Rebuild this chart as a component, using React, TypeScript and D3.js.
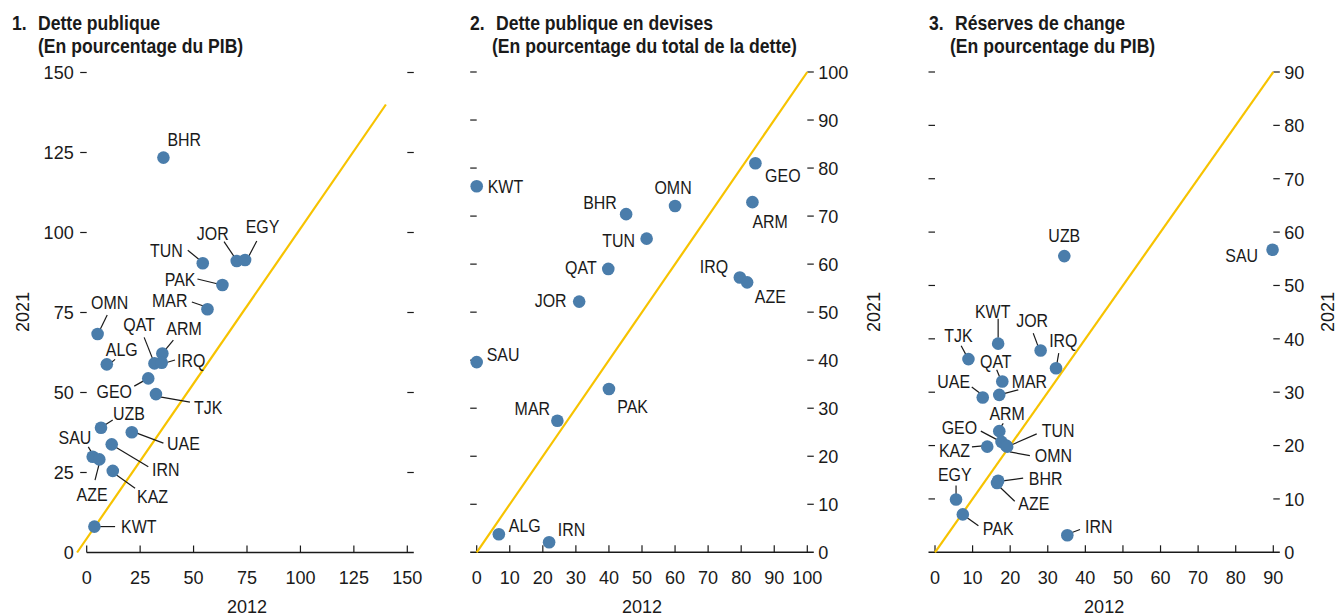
import React from "react";
import * as d3 from "d3";

// ---------- DATA ----------
// Panel 1: Dette publique (% du PIB) — [2012, 2021]
const debtCodes = ["BHR","TUN","JOR","EGY","PAK","MAR","OMN","ALG","ARM","QAT","IRQ","GEO","TJK","UZB","UAE","IRN","SAU","AZE","KAZ","KWT"];
const debt2012 = [35.9,54.3,70.2,74.1,63.5,56.5,5.1,9.4,35.4,31.7,35.1,28.8,32.4,6.7,21.1,11.7,2.8,5.9,12.2,3.6];
const debt2021 = [123.4,90.4,91.1,91.4,83.6,76.0,68.3,58.8,62.2,59.1,59.3,54.4,49.5,39.0,37.6,33.8,29.9,29.1,25.5,8.1];

// Panel 2: Dette publique en devises (% du total de la dette)
const fxCodes = ["KWT","BHR","OMN","TUN","QAT","GEO","ARM","IRQ","AZE","JOR","SAU","PAK","MAR","ALG","IRN"];
const fx2012 = [0,45.2,60.0,51.4,39.8,84.3,83.4,79.6,81.8,31.0,0,40.0,24.4,6.7,21.9];
const fx2021 = [76.2,70.4,72.1,65.3,59.0,81.0,72.9,57.2,56.2,52.2,39.6,34.0,27.4,3.75,2.1];

// Panel 3: Réserves de change (% du PIB)
const resCodes = ["UZB","SAU","KWT","JOR","IRQ","TJK","QAT","MAR","UAE","ARM","GEO","TUN","OMN","KAZ","EGY","PAK","BHR","AZE","IRN"];
const res2012 = [34.4,89.8,16.8,28.1,32.2,8.9,17.9,17.1,12.7,17.1,17.7,18.9,19.2,13.9,5.6,7.4,16.8,16.5,35.2];
const res2021 = [55.5,56.7,39.1,37.8,34.5,36.2,32.0,29.5,29.0,22.7,20.7,20.0,19.8,19.8,9.9,7.1,13.4,13.0,3.2];

const ticks1 = [0,25,50,75,100,125,150];
const ticks2 = [0,10,20,30,40,50,60,70,80,90,100];
const ticks3 = [0,10,20,30,40,50,60,70,80,90];

// ---------- LABEL PLACEMENT (offsets from the dot, px) ----------
type LP = [number, number, string, number[] | null];
const place1: Record<string, LP> = {
  BHR: [4, -18, "start", null],
  TUN: [-20, -13, "end", [-15, -13, -4, -4]],
  JOR: [-24, -28, "middle", [-12.7, -19.3, -1.7, -3]],
  EGY: [17.5, -34, "middle", [11.7, -19, 3.3, -3]],
  PAK: [-27, -6, "end", [-25, -6, -4.3, -1]],
  MAR: [-20, -9, "end", [-15.6, -7.3, -4, -3.3]],
  OMN: [12, -32, "middle", [9.6, -19, 2.3, -4]],
  ALG: [15, -15, "middle", [1.6, 0.7, 8.3, -5]],
  ARM: [21.7, -25, "middle", [11, -13.3, 2.7, -3.3]],
  QAT: [-15.3, -39.3, "middle", [-10.3, -26, -1.6, -4]],
  IRQ: [15.3, -2.7, "start", [13.3, -2.7, 3.3, 0.3]],
  GEO: [-16.3, 12.4, "end", [-14, 7.7, -3.3, 1.7]],
  TJK: [38, 12.7, "start", [4, 2.7, 34, 8]],
  UZB: [12, -14.4, "start", [11.7, -7.7, 2.3, -1.7]],
  UAE: [35.3, 11, "start", [5, 1, 31.6, 11]],
  IRN: [40.3, 25, "start", [3.3, 2.4, 36.6, 22.4]],
  SAU: [-17.7, -19.4, "middle", [-4.4, -10, 0.6, -1.7]],
  AZE: [-7.3, 35, "middle", [0, 4, -4.3, 20.7]],
  KAZ: [24.3, 25.7, "start", [2.3, 3, 22.3, 17.3]],
  KWT: [26.7, 0, "start", [3, 0, 20.7, 0]],
};
const place2: Record<string, LP> = {
  KWT: [11, 0, "start", null],
  BHR: [-9.3, -12, "end", null],
  OMN: [-2, -19.3, "middle", null],
  TUN: [-11.7, 1.7, "end", null],
  QAT: [-11.6, -1.6, "end", null],
  GEO: [9.7, 12, "start", null],
  ARM: [0, 19.4, "start", null],
  IRQ: [-11.7, -11, "end", null],
  AZE: [7.7, 13.7, "start", null],
  JOR: [-12.6, -1.7, "end", null],
  SAU: [10, -8, "start", null],
  PAK: [8.3, 17, "start", null],
  MAR: [-7.3, -13, "end", null],
  ALG: [10, -9.3, "start", null],
  IRN: [8.7, -13.3, "start", null],
};
const place3: Record<string, LP> = {
  UZB: [0, -20.7, "middle", null],
  SAU: [-14.4, 5.7, "end", null],
  KWT: [-5.5, -32.3, "middle", [0, -25, 0, -6]],
  JOR: [-8.5, -30.7, "middle", [-7.4, -17.4, -2.7, -4.7]],
  IRQ: [7.3, -27.6, "middle", [2.7, -15, 1, -5.3]],
  TJK: [-10, -24, "middle", [-7.3, -13.3, -2.3, -4]],
  QAT: [-6.5, -20.7, "middle", [-5.6, -11.7, -2.3, -3.7]],
  MAR: [12.4, -14, "start", [19, -5, 3.7, -1]],
  UAE: [-12.7, -16.3, "end", [-11, -10.6, -2.7, -4.3]],
  ARM: [7.9, -18.3, "middle", [4, -7.7, 0.7, -3]],
  GEO: [-24.4, -15, "end", [-20.7, -10.7, -3.7, -1.7]],
  TUN: [35.7, -15, "start", [30.7, -11.7, 4, 0]],
  OMN: [27.7, 8.3, "start", [22.7, 9, 2.7, 5.3]],
  KAZ: [-17.3, 3.3, "end", [-15.3, 0.3, -4.3, -0.7]],
  EGY: [-1.3, -25.3, "middle", [0, -14, 0, -5]],
  PAK: [20, 13.4, "start", [3.3, 2.7, 15.6, 11.4]],
  BHR: [30.7, -2.7, "start", [4.7, 0, 25, -2.7]],
  AZE: [21.3, 20.6, "start", [2, 3.3, 17.7, 18.3]],
  IRN: [17.7, -9, "start", [2.7, -2, 12.7, -5.7]],
};

const FONT = "'Liberation Sans', Arial, sans-serif";
const DOT = "#4a7dab";
const YELLOW = "#f7c300";
const INK = "#1a1a1a";
const FS = 19;
const SX_LETTERS = 0.84;
const SX_DIGITS = 0.95;
const SX_TITLE = 0.88;

type TProps = { x: number; y: number; anchor?: string; sx: number; size: number; bold?: boolean; rotate?: number; children: React.ReactNode };
function T({ x, y, anchor = "start", sx, size, bold, rotate = 0, children }: TProps) {
  return (
    <text
      transform={`translate(${x},${y}) rotate(${rotate}) scale(${sx},1)`}
      textAnchor={anchor as any}
      fontSize={size}
      fontWeight={bold ? "bold" : "normal"}
      fill={INK}
    >
      {children}
    </text>
  );
}

type PanelProps = {
  codes: string[]; xs: number[]; ys: number[];
  xDomain: [number, number]; xRange: [number, number];
  yDomain: [number, number]; yRange: [number, number];
  ticks: number[]; yLabelSide: "left" | "right";
  place: Record<string, LP>;
  diag: [number, number, number, number];
  axisLeftExt: number;
  num: string; title1: string; title2: string;
  numX: number; t1X: number; t2X: number;
  yTitleX: number;
};

function Panel(p: PanelProps) {
  const x = d3.scaleLinear().domain(p.xDomain).range(p.xRange);
  const y = d3.scaleLinear().domain(p.yDomain).range(p.yRange);
  const [x0, x1] = p.xRange;
  const y0 = p.yRange[0];
  const tk = 6.5;
  const base = 0.36 * FS;
  const line = d3.line<[number, number]>().x(d => x(d[0])).y(d => y(d[1]));
  const diagPath = line([[p.diag[0], p.diag[1]], [p.diag[2], p.diag[3]]]) || "";
  return (
    <g fontFamily={FONT}>
      <T x={p.numX} y={30} sx={SX_TITLE} size={20} bold>{p.num}</T>
      <T x={p.t1X} y={30} sx={SX_TITLE} size={20} bold>{p.title1}</T>
      <T x={p.t2X} y={53} sx={SX_TITLE} size={20} bold>{p.title2}</T>
      {p.ticks.map(t => (
        <g key={"yt" + t}>
          {t !== 0 && <line x1={x0 - tk} x2={x0} y1={y(t)} y2={y(t)} stroke={INK} strokeWidth={1.2} />}
          {t !== 0 && <line x1={x1} x2={x1 + tk} y1={y(t)} y2={y(t)} stroke={INK} strokeWidth={1.2} />}
          {p.yLabelSide === "left" ? (
            <T x={x0 - 13} y={y(t) + base} anchor="end" sx={SX_DIGITS} size={FS}>{t}</T>
          ) : (
            <T x={x1 + 11} y={y(t) + base} anchor="start" sx={SX_DIGITS} size={FS}>{t}</T>
          )}
        </g>
      ))}
      <line x1={x0 - p.axisLeftExt} x2={x1 + tk} y1={y0} y2={y0} stroke={INK} strokeWidth={1.4} />
      {p.ticks.map(t => (
        <g key={"xt" + t}>
          <line x1={x(t)} x2={x(t)} y1={y0} y2={y0 - 7} stroke={INK} strokeWidth={1.2} />
          <T x={x(t)} y={y0 + 25 + base} anchor="middle" sx={SX_DIGITS} size={FS}>{t}</T>
        </g>
      ))}
      <T x={(x0 + x1) / 2} y={613} anchor="middle" sx={SX_DIGITS} size={FS}>2012</T>
      <T x={p.yTitleX + base} y={312} rotate={-90} anchor="middle" sx={SX_DIGITS} size={FS}>2021</T>
      <path d={diagPath} stroke={YELLOW} strokeWidth={2.2} fill="none" />
      {p.codes.map((c, i) => {
        const lp = p.place[c];
        if (!lp || !lp[3]) return null;
        const cx = x(p.xs[i]), cy = y(p.ys[i]);
        const l = lp[3];
        return <line key={"ld" + c} x1={cx + l[0]} y1={cy + l[1]} x2={cx + l[2]} y2={cy + l[3]} stroke={INK} strokeWidth={1.2} />;
      })}
      {p.codes.map((c, i) => (
        <circle key={"d" + c} cx={x(p.xs[i])} cy={y(p.ys[i])} r={6.3} fill={DOT} />
      ))}
      {p.codes.map((c, i) => {
        const lp = p.place[c];
        const cx = x(p.xs[i]), cy = y(p.ys[i]);
        return (
          <T key={"l" + c} x={cx + lp[0]} y={cy + lp[1] + base} anchor={lp[2]} sx={SX_LETTERS} size={FS}>{c}</T>
        );
      })}
    </g>
  );
}

export default function App() {
  return (
    <svg width={1337} height={616} style={{ position: "absolute", left: 0, top: 0, display: "block", background: "#fff" }}>
      <rect width={1337} height={616} fill="#fff" />
      <Panel codes={debtCodes} xs={debt2012} ys={debt2021}
        xDomain={[0, 150]} xRange={[86.7, 407.3]} yDomain={[0, 150]} yRange={[552.5, 72.5]}
        ticks={ticks1} yLabelSide="left" place={place1} diag={[-4.5, 0, 140, 140]} axisLeftExt={0}
        num="1." title1="Dette publique" title2="(En pourcentage du PIB)" numX={12} t1X={38} t2X={38} yTitleX={22.5} />
      <Panel codes={fxCodes} xs={fx2012} ys={fx2021}
        xDomain={[0, 100]} xRange={[476.7, 807.3]} yDomain={[0, 100]} yRange={[552.3, 72]}
        ticks={ticks2} yLabelSide="right" place={place2} diag={[0, 0, 100, 100]} axisLeftExt={6.5}
        num="2." title1="Dette publique en devises" title2="(En pourcentage du total de la dette)" numX={470} t1X={496} t2X={492} yTitleX={873} />
      <Panel codes={resCodes} xs={res2012} ys={res2021}
        xDomain={[0, 90]} xRange={[935, 1273.3]} yDomain={[0, 90]} yRange={[552.3, 72]}
        ticks={ticks3} yLabelSide="right" place={place3} diag={[0, 0, 90, 90]} axisLeftExt={6.5}
        num="3." title1="Réserves de change" title2="(En pourcentage du PIB)" numX={929} t1X={955} t2X={950} yTitleX={1327.5} />
    </svg>
  );
}
